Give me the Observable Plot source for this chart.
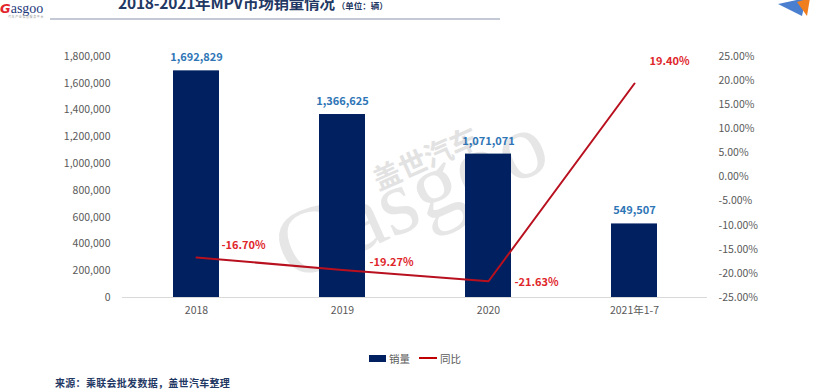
<!DOCTYPE html>
<html>
<head>
<meta charset="utf-8">
<script src="https://cdn.jsdelivr.net/npm/d3@7"></script>
<script src="https://cdn.jsdelivr.net/npm/@observablehq/plot@0.6"></script>
<style>
  html, body { margin: 0; padding: 0; background: #fff; }
  body { font-family: "Noto Sans CJK SC", "Noto Sans", sans-serif; }
  #wrap { position: relative; width: 820px; height: 389px; overflow: hidden; background: #fff; }
  #chart { position: absolute; left: 0; top: 0; }
  .title { position: absolute; left: 118px; top: -8px; white-space: nowrap; color: #1f3864; font-weight: 700; font-size: 15.5px; line-height: 20px; letter-spacing: -0.2px; }
  .title small { font-size: 8.5px; font-weight: 700; margin-left: 2px; letter-spacing: 0; }
  .rule { position: absolute; left: 50px; top: 18px; width: 450px; height: 2px; background: #c3cad6; }
  .logo { position: absolute; left: 0; top: -6px; white-space: nowrap; }
  .logo .g { color: #e3262d; font-style: italic; font-weight: 700; font-size: 13px; font-family: "DejaVu Sans", sans-serif; }
  .logo .a { color: #1f3a7a; font-size: 14px; font-family: "Liberation Serif", "DejaVu Serif", serif; }
  .logo .tag { position: absolute; left: 8px; top: 21px; font-size: 3px; line-height: 4px; color: #999; letter-spacing: 0.6px; }
  .legend { position: absolute; top: 349px; left: 369px; font-size: 10.5px; color: #595959; white-space: nowrap; }
  .legend span { display: inline-block; vertical-align: middle; }
  .sw-bar { width: 17px; height: 7px; background: #002060; margin-right: 3px; }
  .sw-line { width: 18px; height: 2px; background: #c00000; margin: 0 3px 0 9px; }
  .caption { position: absolute; left: 55px; top: 375px; font-size: 10px; color: #1f3864; font-weight: 700; letter-spacing: 0.3px; white-space: nowrap; }
</style>
</head>
<body>
<div id="wrap">
  <div id="chart"></div>
  <div class="logo"><span class="g">G</span><span class="a">asgoo</span><div class="tag">汽车产业信息服务平台</div></div>
  <div class="title"></div>
  <div class="rule"></div>
  <svg style="position:absolute;left:770px;top:0" width="50" height="20">
    <polygon points="36,-2 8,4 32,16" fill="#4a7fd0"/>
    <polygon points="40,-2 27,2 37,16" fill="#f07d1e"/>
  </svg>
  <div class="legend"><span class="sw-bar"></span><span class="lt1"></span><span class="sw-line"></span><span class="lt2"></span></div>
  <div class="caption"></div>
</div>
<script>
// ---- data ----
const categories = ["2018", "2019", "2020", "2021年1-7"];
const sales = [1692829, 1366625, 1071071, 549507];
const yoy = [-16.70, -19.27, -21.63, 19.40];
const leftTicks = [0, 200000, 400000, 600000, 800000, 1000000, 1200000, 1400000, 1600000, 1800000];
const rightTicks = [-25, -20, -15, -10, -5, 0, 5, 10, 15, 20, 25];
const titleText = "2018-2021年MPV市场销量情况";
const unitText = "（单位：辆）";
const seriesNames = ["销量", "同比"];
const captionText = "来源：乘联会批发数据，盖世汽车整理";

document.querySelector(".title").innerHTML = titleText + "<small>" + unitText + "</small>";
document.querySelector(".lt1").textContent = seriesNames[0];
document.querySelector(".lt2").textContent = seriesNames[1];
document.querySelector(".caption").textContent = captionText;

// map the percentage (right axis) onto the sales scale (left axis)
const Y_MAX = leftTicks[leftTicks.length - 1];
const P_MIN = rightTicks[0], P_MAX = rightTicks[rightTicks.length - 1];
const toY = p => (p - P_MIN) / (P_MAX - P_MIN) * Y_MAX;
const fromY = v => v / Y_MAX * (P_MAX - P_MIN) + P_MIN;

const data = categories.map((c, i) => ({cat: c, sales: sales[i], yoy: yoy[i], yy: toY(yoy[i])}));

const FONT = "'Noto Sans CJK SC', 'Noto Sans', sans-serif";
const fmt = d3.format(",");

const pctLabel = (i, dx, dy, anchor) => Plot.text(data.filter((d, j) => j === i), {
  x: "cat", y: "yy", text: d => d.yoy.toFixed(2) + "%",
  dx, dy, textAnchor: anchor, fill: "#e0262b", fontWeight: "bold", fontSize: 11
});

const chart = Plot.plot({
  width: 820,
  height: 389,
  marginLeft: 122,
  marginRight: 113,
  marginTop: 56,
  marginBottom: 92,
  style: {fontFamily: FONT, background: "transparent", overflow: "visible"},
  x: {type: "band", domain: categories, paddingInner: 0.686, paddingOuter: 0.341, align: 0.5, axis: null},
  y: {domain: [0, Y_MAX], axis: null},
  marks: [
    // watermark
    Plot.text(["盖世汽车"], {frameAnchor: "top-left", dx: 248, dy: 116, text: d => d, rotate: -24, fontSize: 28, fontWeight: "bold", fill: "#e2e2e2", textAnchor: "start", letterSpacing: "16px"}),
    Plot.text(["Gasgoo"], {frameAnchor: "top-left", dx: 142, dy: 165, text: d => d, rotate: -24, fontSize: 94, fontFamily: "'Liberation Serif', serif", fill: "#e6e6e6", textAnchor: "start"}),
    Plot.ruleY([0], {stroke: "#d9d9d9", strokeWidth: 1}),
    Plot.barY(data, {x: "cat", y: "sales", fill: "#002060"}),
    Plot.axisY(leftTicks, {anchor: "left", tickSize: 0, tickPadding: 12, tickFormat: fmt, color: "#595959", fontSize: 10.5}),
    Plot.axisY(rightTicks.map(toY), {anchor: "right", tickSize: 0, tickPadding: 11, tickFormat: v => fromY(v).toFixed(2) + "%", color: "#595959", fontSize: 10.5}),
    Plot.axisX({anchor: "bottom", tickSize: 0, tickPadding: 9, color: "#595959", fontSize: 10.5, label: null}),
    Plot.text(data, {x: "cat", y: "sales", text: d => fmt(d.sales), dy: -13, fill: "#2e75b6", fontWeight: "bold", fontSize: 11}),
    Plot.line(data, {x: "cat", y: "yy", stroke: "#b8101e", strokeWidth: 2}),
    pctLabel(0, 25, -12, "start"),
    pctLabel(1, 27, -7, "start"),
    pctLabel(2, 26, 1, "start"),
    pctLabel(3, 35, -22, "middle")
  ]
});
document.getElementById("chart").appendChild(chart);
</script>
</body>
</html>
